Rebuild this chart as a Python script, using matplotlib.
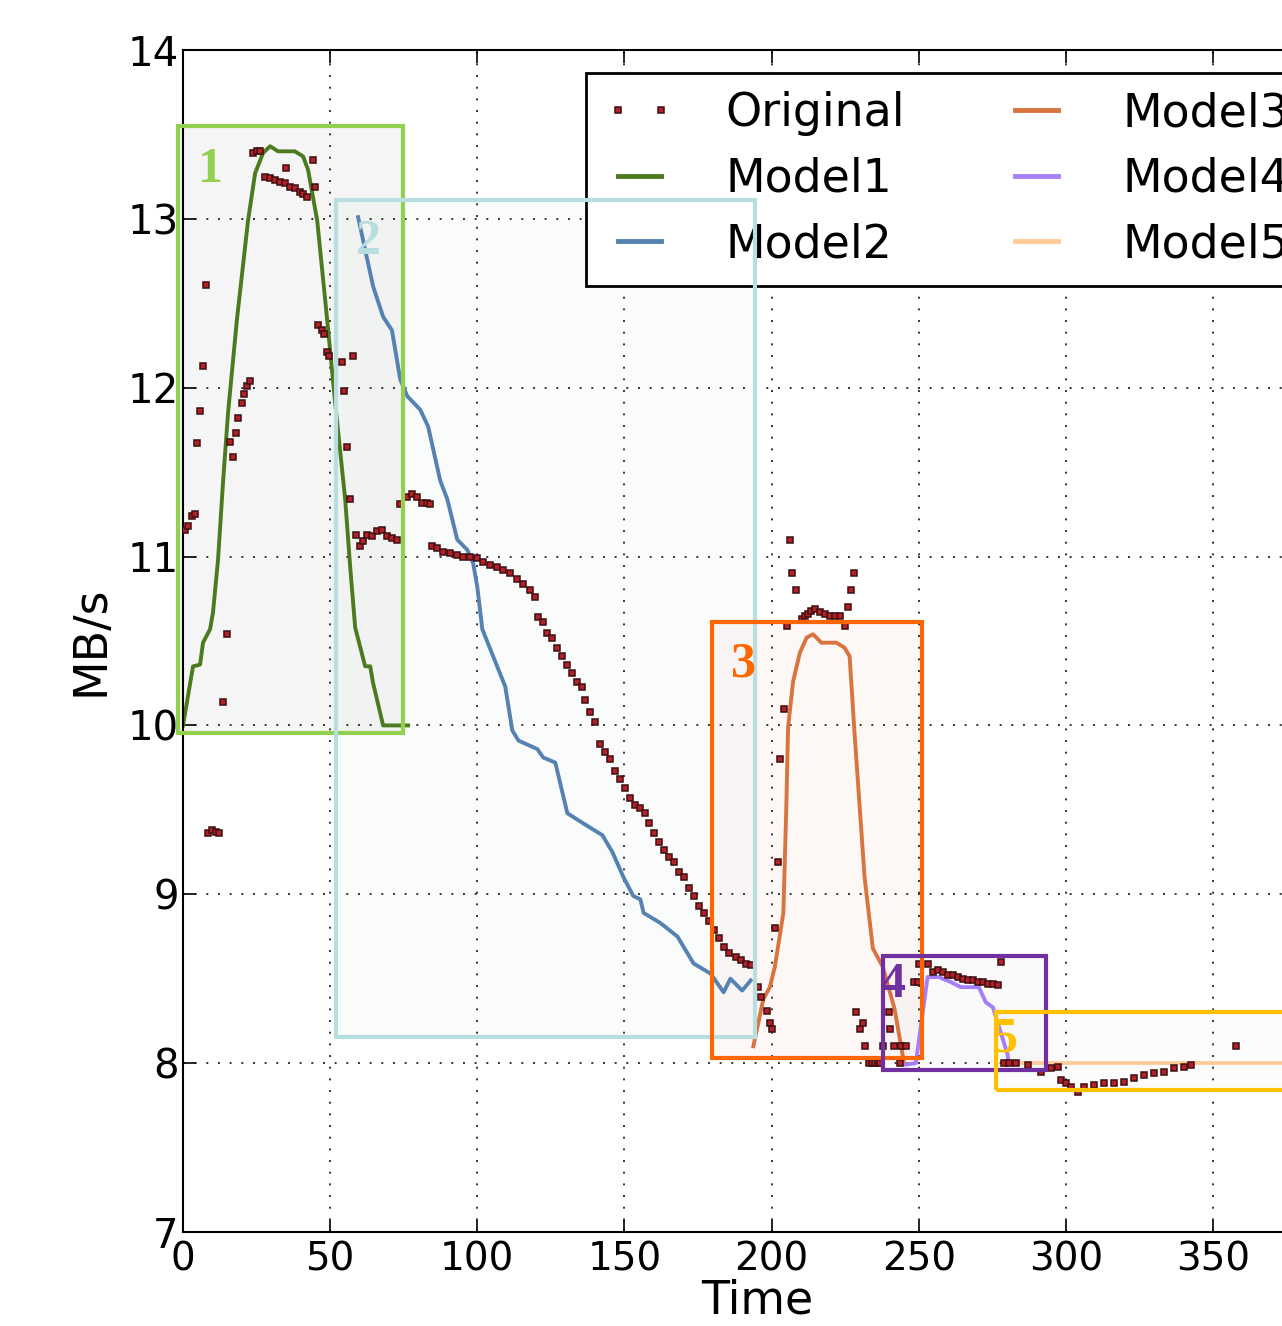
import matplotlib
matplotlib.use("Agg")
import matplotlib.pyplot as plt
from matplotlib.patches import Rectangle

# datos
orig_t = [0.7, 1.7, 3.0, 4.0, 4.7, 5.8, 6.8, 7.8, 13.6, 14.9,
          8.5, 9.8, 11.1, 12.4,
          16.0, 17.0, 18.0, 18.7, 20.0, 20.7, 21.8, 22.8,
          23.8, 25.2, 26.2, 27.9, 29.6, 31.3, 33.0, 34.7, 36.4, 38.1, 39.8, 40.8, 42.2, 35.0, 44.2, 44.9,
          45.9, 47.3, 48.0, 49.0, 49.7, 54.0, 57.8, 54.8, 55.7, 56.8,
          58.8, 60.2, 61.2, 62.6, 64.3, 66.0, 67.7, 69.4, 71.1, 72.8,
          73.8, 76.2, 77.9, 79.6, 81.3, 83.0, 84.0,
          84.7, 86.4, 88.4, 90.8, 93.2, 95.2, 97.6, 100.0, 102.0, 104.4, 106.8, 108.8, 111.2, 113.6,
          115.6, 118.0, 119.7, 120.7, 122.4, 123.8, 125.5, 127.2, 128.9, 130.6, 132.3, 134.0, 135.7,
          136.7, 138.4, 140.1, 141.8, 143.5, 145.2, 146.9, 148.6, 150.3, 152.0, 153.7, 155.4, 157.1,
          158.2, 159.9, 161.6, 163.3, 165.0, 166.7, 168.4, 170.1, 171.8, 173.5, 175.2, 176.9, 178.6,
          180.3, 182.0, 183.7, 185.4, 187.8, 189.5, 191.2, 192.9,
          195.5, 196.4, 198.3, 199.4, 200.3, 201.1, 202.3, 203.0, 204.3, 205.1, 206.2, 207.0, 208.2,
          210.2, 211.5, 212.4, 213.5, 214.7, 216.4, 218.1, 219.8, 221.4, 223.1, 225.1, 226.0, 227.1, 227.9,
          228.8, 229.9, 231.0, 231.9, 233.0, 234.0, 235.0, 236.0, 237.0, 237.8, 240.0, 240.3, 241.5,
          243.5, 244.0, 245.6, 248.3, 249.7, 250.2, 253.0, 254.8, 256.5, 258.2, 259.9, 261.6, 263.3,
          265.0, 266.7, 268.4, 270.1, 271.8, 273.5, 275.2, 276.9, 277.9,
          278.9, 280.5, 283.0, 287.0, 291.5, 294.9, 297.3, 298.3, 300.0, 301.7, 304.1, 306.1, 309.5,
          312.9, 316.3, 319.7, 323.1, 326.5, 329.9, 333.3, 336.7, 340.1, 342.5, 357.8]
orig_v = [11.16, 11.18, 11.24, 11.25, 11.67, 11.86, 12.13, 12.61, 10.14, 10.54,
          9.36, 9.38, 9.37, 9.36,
          11.68, 11.59, 11.73, 11.82, 11.91, 11.96, 12.01, 12.04,
          13.39, 13.40, 13.40, 13.25, 13.24, 13.23, 13.22, 13.21, 13.19, 13.18, 13.16, 13.15, 13.13, 13.30, 13.35, 13.19,
          12.37, 12.34, 12.32, 12.21, 12.19, 12.15, 12.19, 11.98, 11.65, 11.34,
          11.13, 11.06, 11.09, 11.13, 11.12, 11.15, 11.16, 11.12, 11.11, 11.10,
          11.31, 11.35, 11.37, 11.35, 11.32, 11.32, 11.31,
          11.06, 11.05, 11.03, 11.02, 11.01, 11.00, 11.00, 10.99, 10.97, 10.95, 10.94, 10.92, 10.90, 10.87,
          10.84, 10.80, 10.76, 10.64, 10.61, 10.55, 10.52, 10.46, 10.41, 10.36, 10.31, 10.26, 10.23,
          10.15, 10.08, 10.02, 9.89, 9.84, 9.80, 9.73, 9.68, 9.63, 9.57, 9.53, 9.51, 9.48,
          9.42, 9.36, 9.31, 9.26, 9.22, 9.19, 9.13, 9.10, 9.04, 8.99, 8.93, 8.89, 8.84,
          8.79, 8.74, 8.69, 8.65, 8.63, 8.61, 8.59, 8.58,
          8.45, 8.39, 8.31, 8.24, 8.20, 8.80, 9.19, 9.80, 10.10, 10.59, 11.10, 10.90, 10.80,
          10.63, 10.65, 10.66, 10.68, 10.69, 10.67, 10.66, 10.65, 10.65, 10.65, 10.59, 10.70, 10.80, 10.90,
          8.30, 8.20, 8.24, 8.10, 8.00, 8.00, 8.00, 8.00, 8.00, 8.10, 8.30, 8.20, 8.10,
          8.00, 8.10, 8.10, 8.48, 8.48, 8.59, 8.59, 8.54, 8.55, 8.54, 8.52, 8.52, 8.51,
          8.50, 8.49, 8.49, 8.48, 8.48, 8.47, 8.47, 8.46, 8.60,
          8.00, 8.00, 8.00, 7.99, 7.95, 7.97, 7.98, 7.90, 7.88, 7.86, 7.83, 7.86, 7.87,
          7.88, 7.88, 7.89, 7.91, 7.93, 7.94, 7.95, 7.97, 7.98, 7.99, 8.10]

m1_t = [0, 3.4, 5.8, 6.8, 9.2, 10.2, 11.9, 13.6, 15.3, 18.3, 22.1, 24.5, 27.2, 29.6, 32.3, 38.0,
        40.8, 42.5, 45.6, 49.0, 51.7, 55.1, 56.8, 58.5, 61.9, 63.6, 64.6, 68.0, 76.5]
m1_v = [10.0, 10.35, 10.36, 10.49, 10.57, 10.67, 10.98, 11.44, 11.85, 12.40, 12.99, 13.27, 13.39,
        13.43, 13.40, 13.40, 13.37, 13.29, 12.99, 12.40, 11.91, 11.34, 10.94, 10.58, 10.35, 10.35,
        10.25, 10.0, 10.0]

m2_t = [59.5, 64.6, 68.0, 71.0, 73.8, 76.2, 80.6, 83.3, 87.4, 89.8, 93.2, 96.6, 98.6, 100.0,
        101.7, 109.5, 111.9, 114.0, 120.4, 122.4, 126.5, 130.6, 136.0, 142.5, 145.9, 149.7, 153.0,
        155.4, 156.5, 162.2, 168.0, 173.5, 179.3, 183.7, 186.0, 190.0, 192.9]
m2_v = [13.01, 12.60, 12.42, 12.34, 12.05, 11.95, 11.87, 11.77, 11.45, 11.34, 11.10, 11.04, 10.96,
        10.82, 10.57, 10.23, 9.97, 9.91, 9.86, 9.81, 9.78, 9.48, 9.42, 9.35, 9.25, 9.10, 8.99,
        8.97, 8.89, 8.83, 8.75, 8.59, 8.53, 8.42, 8.50, 8.43, 8.49]

m3_t = [193.8, 197.2, 199.4, 201.1, 204.0, 205.0, 205.6, 207.3, 209.6, 211.9, 214.1, 216.9, 222.0,
        224.8, 226.5, 228.2, 231.6, 234.4, 237.8, 241.8, 244.6, 245.0]
m3_v = [8.10, 8.38, 8.45, 8.57, 8.89, 9.52, 9.99, 10.26, 10.43, 10.52, 10.54, 10.49, 10.49,
        10.46, 10.41, 9.95, 9.10, 8.68, 8.57, 8.32, 8.04, 8.0]

m4_t = [244.9, 249.0, 253.0, 256.8, 260.9, 264.3, 270.4, 272.8, 275.2, 277.9, 280.2, 280.6]
m4_v = [7.99, 8.0, 8.51, 8.51, 8.48, 8.45, 8.45, 8.36, 8.33, 8.18, 8.05, 8.0]

m5_t = [280.0, 400.0]
m5_v = [8.0, 8.0]

plt.rcParams['font.family'] = ['DejaVu Sans']

fig = plt.figure(figsize=(12.82, 13.26), dpi=100, facecolor='white')
ax = fig.add_axes([183 / 1282, 1 - 1232 / 1326, 390 * 2.943 / 1282, 1182 / 1326])

ax.plot(orig_t, orig_v, linestyle='none', marker='s', markersize=3.8,
        markerfacecolor='#b3202a', markeredgecolor='#3d1010', markeredgewidth=1.1,
        label='Original', zorder=3)
ax.plot(m1_t, m1_v, color='#4b7a1f', lw=2.8, label='Model1', zorder=2)
ax.plot(m2_t, m2_v, color='#5582b0', lw=2.8, label='Model2', zorder=2)
ax.plot(m3_t, m3_v, color='#d9733f', lw=2.8, label='Model3', zorder=2)
ax.plot(m4_t, m4_v, color='#a57ffa', lw=2.8, label='Model4', zorder=2)
ax.plot(m5_t, m5_v, color='#ffcc99', lw=2.8, label='Model5', zorder=2)

ax.set_xlim(0, 390)
ax.set_ylim(7, 14)
ax.set_xticks([0, 50, 100, 150, 200, 250, 300, 350])
ax.set_yticks([7, 8, 9, 10, 11, 12, 13, 14])
ax.grid(True, color='#333333', linestyle=(0, (1, 5)), linewidth=1.4)
ax.tick_params(direction='in', length=9, width=1.2, top=True, right=True)
ax.tick_params(axis='y', labelsize=29, pad=3)
ax.tick_params(axis='x', labelsize=28, pad=6)
for s in ax.spines.values():
    s.set_linewidth(1.5)
ax.set_xlabel('Time', fontsize=33, labelpad=0)
ax.set_ylabel('MB/s', fontsize=33, labelpad=10)

leg = ax.legend(loc='upper right', ncol=2, fontsize=33, numpoints=2, fancybox=False,
                handlelength=1.55, handletextpad=1.1, labelspacing=0.45,
                columnspacing=2.1, borderaxespad=0.5, framealpha=1)
leg.get_frame().set_edgecolor('black')
leg.get_frame().set_linewidth(2)
leg.set_zorder(5)
for h in leg.get_lines():
    h.set_linewidth(3.5)

# cajas de anotacion: (x0, y0, x1, y1, borde, relleno, alpha)
cajas = [
    (-1.7, 9.956, 74.8, 13.55, '#92d050', '#000000', 0.04),
    (52.0, 8.156, 194.2, 13.11, '#b7dfe0', '#8fb8b8', 0.04),
    (179.6, 8.03, 251.0, 10.61, '#ff6600', '#e08060', 0.05),
    (237.8, 7.96, 293.2, 8.636, '#7030a0', '#909090', 0.04),
    (276.2, 7.84, 395.0, 8.30, '#ffc000', '#a0a0a0', 0.03),
]
for x0, y0, x1, y1, borde, relleno, a in cajas:
    ax.add_patch(Rectangle((x0, y0), x1 - x0, y1 - y0, facecolor=relleno, alpha=a,
                           edgecolor='none', zorder=1, clip_on=False))
    ax.add_patch(Rectangle((x0, y0), x1 - x0, y1 - y0, facecolor='none',
                           edgecolor=borde, lw=3, zorder=6, clip_on=False))

numeros = [('1', 9.2, 13.29, '#92d050'), ('2', 62.9, 12.86, '#b7dfe0'),
           ('3', 190.3, 10.36, '#ff6600'), ('4', 241.3, 8.46, '#7030a0'),
           ('5', 279.3, 8.14, '#ffc000')]
for txt, x, y, c in numeros:
    ax.text(x, y, txt, color=c, fontsize=36, fontweight='bold', family='Liberation Serif',
            ha='center', va='center', zorder=7)

fig.savefig('out.png', dpi=100, facecolor='white')
